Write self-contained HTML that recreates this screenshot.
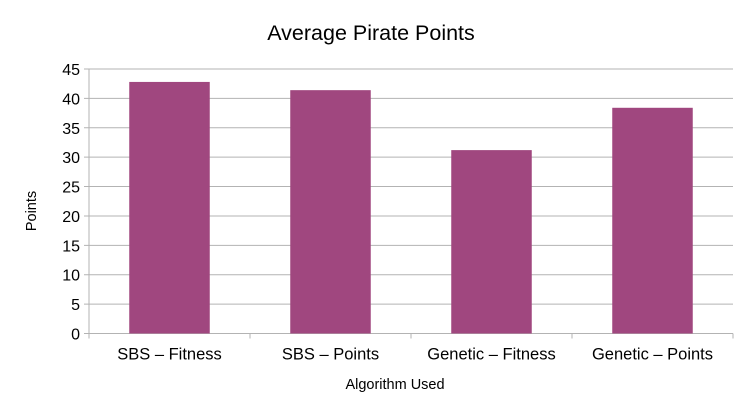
<!DOCTYPE html>
<html><head><meta charset="utf-8"><style>
body{margin:0;background:#fff;font-family:"Liberation Sans",sans-serif;}
</style></head><body>
<svg width="746" height="413" xmlns="http://www.w3.org/2000/svg" font-family="Liberation Sans, sans-serif">
<text x="371" y="40" font-size="21.5" text-anchor="middle">Average Pirate Points</text>
<g id="grid"></g><g id="bars"></g><g id="axes"></g>
<text x="395" y="389" font-size="14.5" text-anchor="middle">Algorithm Used</text>
<text transform="translate(36,211) rotate(-90)" font-size="14.5" text-anchor="middle">Points</text>
</svg>
<script>
const categories=["SBS – Fitness","SBS – Points","Genetic – Fitness","Genetic – Points"];
const values=[42.8,41.4,31.2,38.4];
const yTicks=[0,5,10,15,20,25,30,35,40,45];
const L=89,R=733,T=69,B=333.5,yMax=45;
const ns="http://www.w3.org/2000/svg";
const y=v=>B-(v/yMax)*(B-T);
const slot=(R-L)/categories.length;
function mk(t,a,p){const e=document.createElementNS(ns,t);for(const k in a)e.setAttribute(k,a[k]);document.getElementById(p).appendChild(e);return e;}
yTicks.forEach(v=>{
 const l=mk('line',{x1:L-5,x2:R,y1:y(v),y2:y(v),stroke:'#b3b3b3','stroke-width':1},'grid');
 
 
 const t=mk('text',{x:L-9,y:y(v)+6,'font-size':16,'text-anchor':'end'},'axes');
 t.textContent=v;
 
 
});
mk('line',{x1:L,x2:L,y1:T,y2:B+5,stroke:'#b3b3b3'},'axes');
categories.forEach((c,i)=>{
 const x0=L+i*slot;
 const r=mk('rect',{x:x0+slot*0.25,y:y(values[i]),width:slot*0.5,height:B-y(values[i]),fill:'#a0477f'},'bars');
 
 
 mk('line',{x1:x0+slot,x2:x0+slot,y1:B,y2:B+5,stroke:'#b3b3b3'},'axes');
 const t=mk('text',{x:x0+slot/2,y:B+26,'font-size':16.5,'text-anchor':'middle'},'axes');
 t.textContent=c;
 
 
});
</script>
</body></html>
